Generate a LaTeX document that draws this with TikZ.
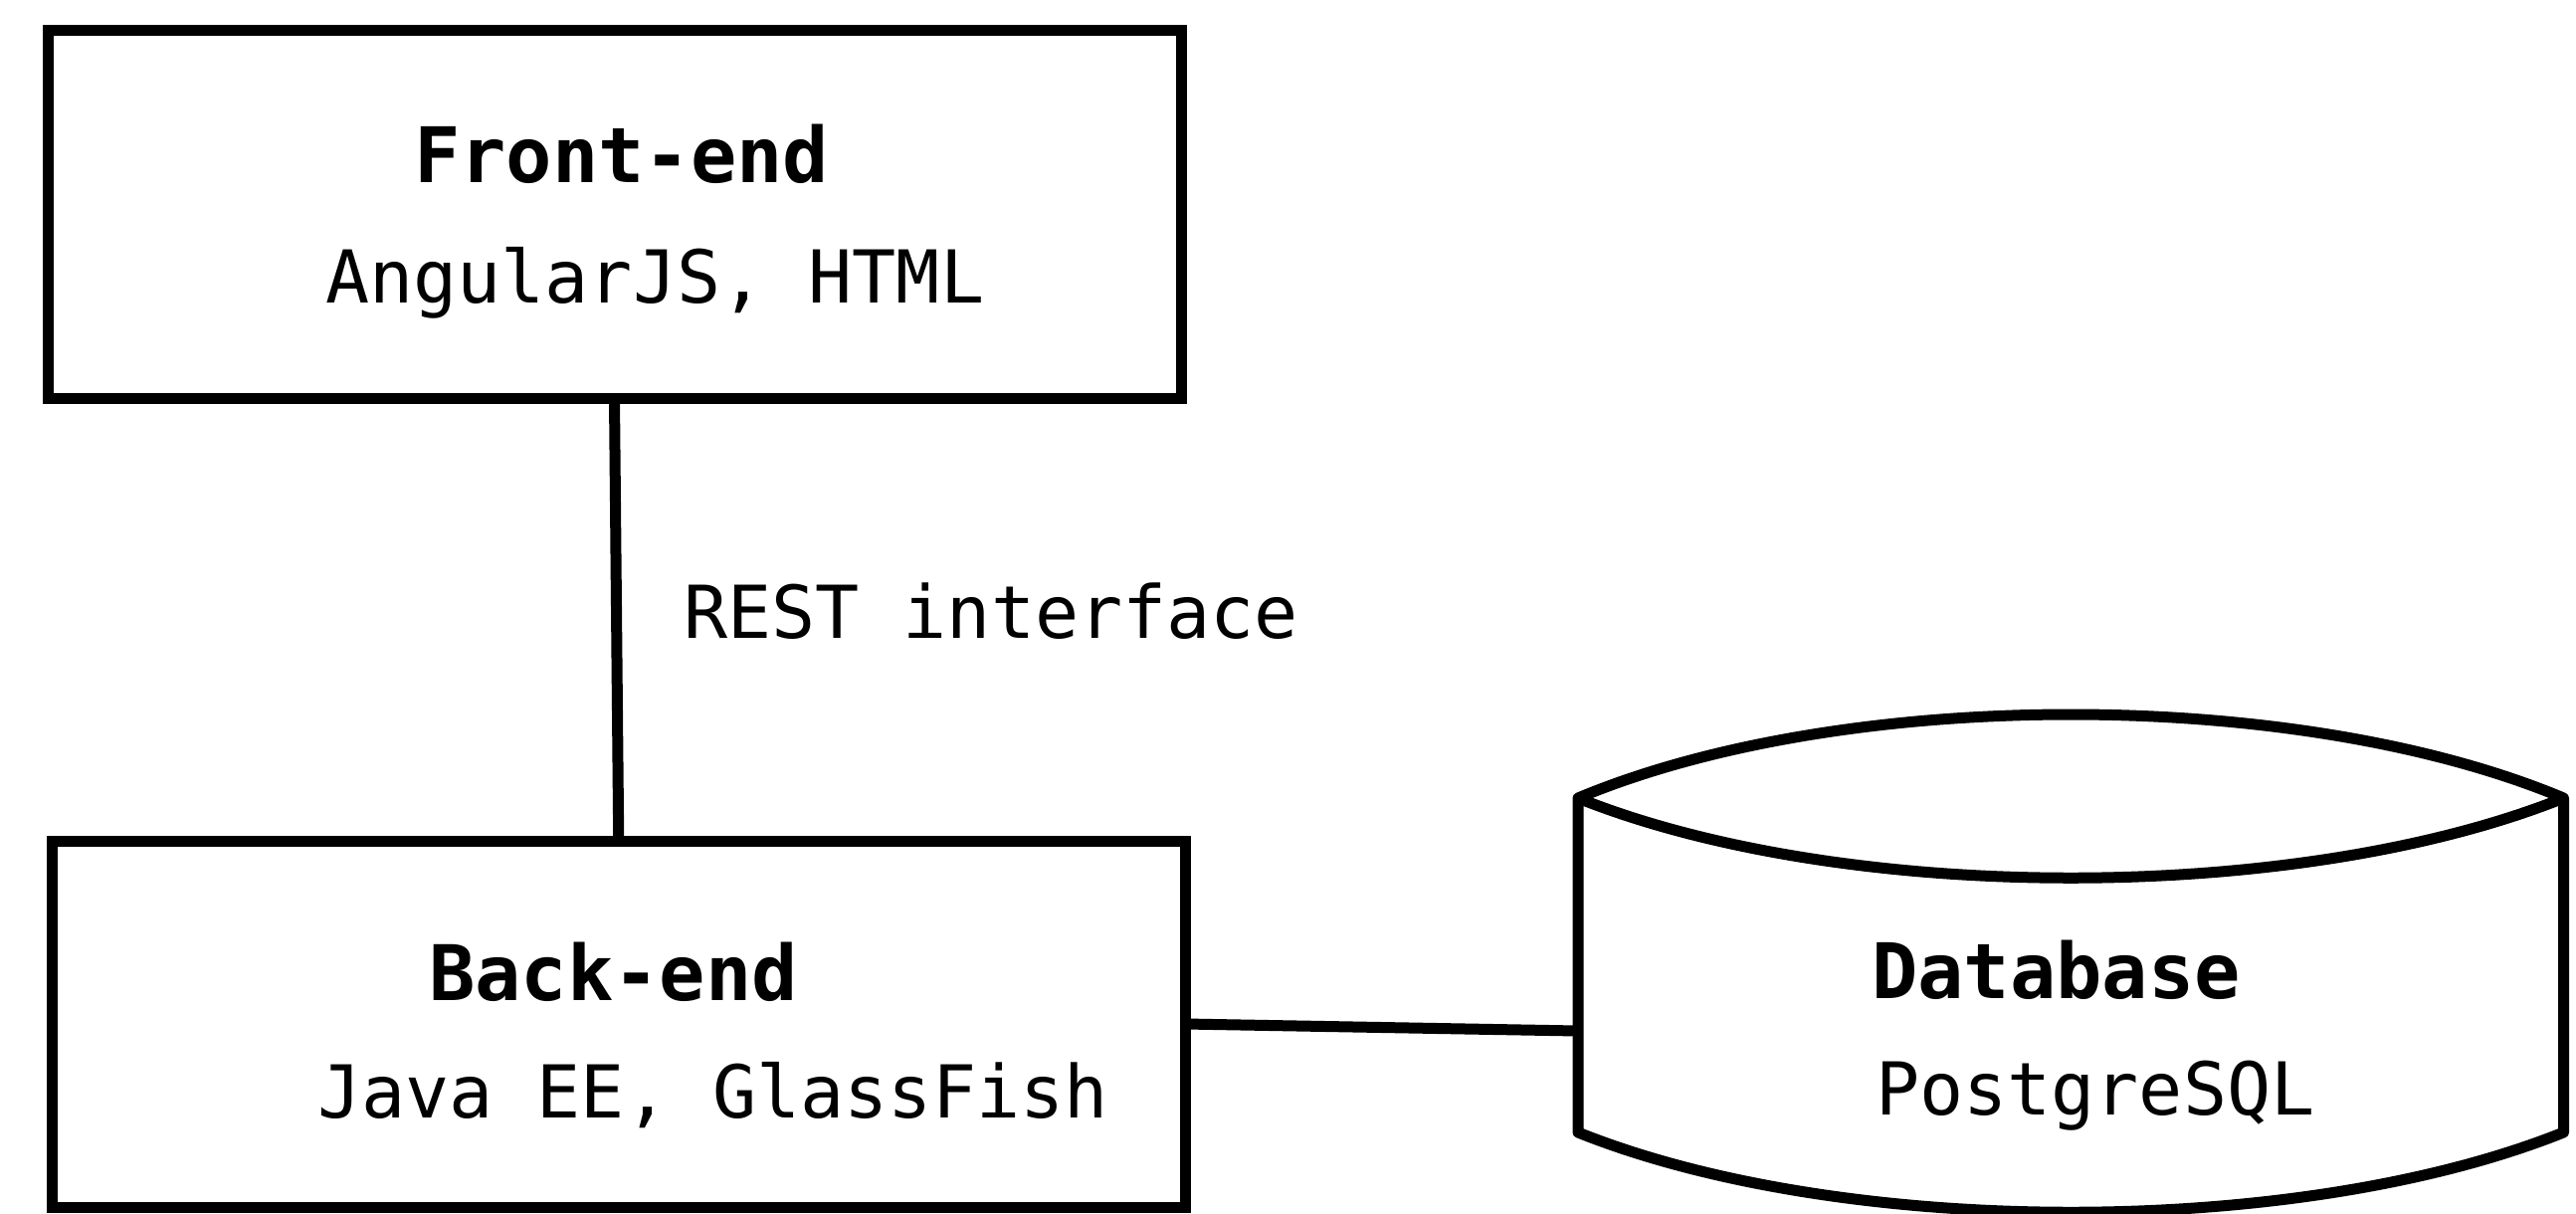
\documentclass[tikz,border=0pt]{standalone}
\usepackage{fontspec}
\newfontfamily\dvm{DejaVu Sans Mono}
\begin{document}
\begin{tikzpicture}[x=0.3pt,y=-0.3pt,
  box/.style={draw=black, line width=3.3pt, rectangle, inner sep=0pt, outer sep=0pt, minimum width=#1},
  lbl/.style={anchor=base west, inner sep=0pt, outer sep=0pt, font=\dvm\fontsize{22pt}{26pt}\selectfont},
  blbl/.style={lbl, font=\dvm\bfseries\fontsize{23.1pt}{27pt}\selectfont},
  conn/.style={draw=black, line width=3.3pt},
  cyl/.style={draw=black, line width=3.3pt, line join=round}]
\useasboundingbox (0,0) rectangle (2589,1219);
% boxes
\node[box=341.7pt, minimum height=111pt] (front) at (617.5,215) {};
\node[box=341.85pt, minimum height=110.4pt] (back) at (621.75,1029) {};
% cylinder
\coordinate (dbtl) at (1586,802);
\coordinate (dbtr) at (2576.5,802);
\coordinate (dbbl) at (1586,1138);
\coordinate (dbbr) at (2576.5,1138);
\coordinate (dbw) at (1586,1036);
\path[cyl] (dbtl) .. controls (1853,690) and (2309.5,690) .. (dbtr) -- (dbbr)
  .. controls (2309.5,1245) and (1853,1245) .. (dbbl) -- cycle;
\path[cyl] (dbtl) .. controls (1853,909) and (2309.5,909) .. (dbtr);
% connectors
\path[conn] (front.south) -- (back.north);
\path[conn] (back.east) -- (dbw);
% labels
\node[blbl] (fetitle) at (416,183) {Front-end};
\node[lbl] (fetext) at (327,304) {AngularJS, HTML};
\node[lbl] (rest) at (687,641) {REST interface};
\node[blbl] (betitle) at (431,1005) {Back-end};
\node[lbl] (betext) at (319,1123) {Java EE, GlassFish};
\node[blbl] (dbtitle) at (1881,1003) {Database};
\node[lbl] (dbtext) at (1885,1120) {PostgreSQL};
\end{tikzpicture}
\end{document}
